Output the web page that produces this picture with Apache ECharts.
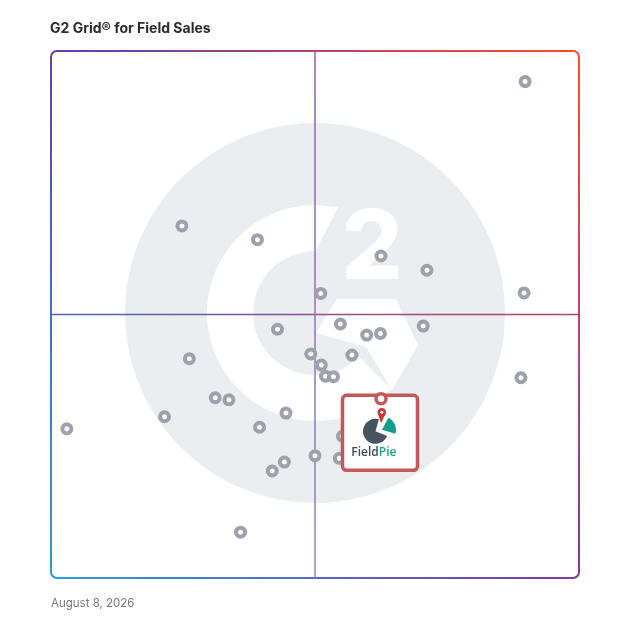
<!DOCTYPE html>
<html><head><meta charset="utf-8">
<script src="https://cdn.jsdelivr.net/npm/echarts@6/dist/echarts.min.js"></script>
<style>html,body{margin:0;padding:0;background:#fff}#c{width:628px;height:628px}</style>
</head><body><div id="c"></div>
<script>
const titleText = 'G2 Grid\u00AE for Field Sales';
const dateText = 'August 8, 2026';
// horizontal = satisfaction, vertical = market presence (0..100)
const satisfaction = [89.8,24.8,39.1,62.5,71.2,89.6,51.1,42.9,54.8,59.8,62.4,70.5,26.2,49.2,57.0,51.2,52.0,53.5,89.0,31.1,33.7,21.5,44.5,3.0,39.5,55.2,50.0,54.6,44.2,41.9,35.9];
const marketPresence = [94.2,66.8,64.2,61.1,58.4,54.1,54.0,47.2,48.2,46.1,46.4,47.8,41.6,42.5,42.3,40.4,38.3,38.2,38.0,34.2,33.8,30.6,31.3,28.3,28.6,26.9,23.2,22.7,22.0,20.3,8.7];
const featuredName = ['Field','Pie'];
const featuredSatisfaction = [62.5];
const featuredPresence = [34.0];

const G = {left:51, top:51, right:579, bottom:578};
const chart = echarts.init(document.getElementById('c'), null, {renderer:'canvas'});
const d2r = Math.PI/180;
const cx = 315, cy = 313;

function lg(x,y,x2,y2,c1,c2){return {type:'linear',x:x,y:y,x2:x2,y2:y2,global:true,colorStops:[{offset:0,color:c1},{offset:1,color:c2}]};}
const cTL='#5a3fb8', cTR='#ff4b2b', cBL='#2a9cd8', cBR='#7c3a9c';
const rr=6, bw=2;
const midY=(G.top+G.bottom)/2, midX=(G.left+G.right)/2;

const graphics = [
  // watermark
  {type:'circle', z:0, silent:true, shape:{cx:cx,cy:cy,r:190}, style:{fill:'#ebeef1'}},
  {type:'sector', z:0, silent:true, shape:{cx:cx,cy:cy,r:108,r0:62,startAngle:45*d2r,endAngle:270*d2r,clockwise:true}, style:{fill:'#fff'}},
  {type:'polygon', z:0, silent:true, shape:{points:[[cx,cy-108],[cx+23,cy-105.7],[cx,cy-61]]}, style:{fill:'#fff'}},
  {type:'polygon', z:0, silent:true, shape:{points:[[cx+22,cy-14],[cx+81,cy-14],[cx+103,cy+32],[cx+77,cy+77],[cx+51,cy+34],[cx+1,cy+20]]}, style:{fill:'#fff'}},
  {type:'text', z:0, silent:true, style:{x:cx+57,y:cy-63,text:'2',fill:'#fff',fontSize:96,fontWeight:800,fontFamily:'Inter',align:'center',verticalAlign:'middle'}},
  // crosshair
  {type:'line', z:1, silent:true, shape:{x1:G.left,y1:midY,x2:G.right,y2:midY}, style:{stroke:lg(G.left,0,G.right,0,'#4a66bb','#c4405c'),lineWidth:1.5}},
  {type:'line', z:1, silent:true, shape:{x1:midX,y1:G.top,x2:midX,y2:G.bottom}, style:{stroke:lg(0,G.top,0,G.bottom,'#9c5ea6','#8a86cc'),lineWidth:1.5}},
  // border
  {type:'line', z:1, silent:true, shape:{x1:G.left+rr,y1:G.top,x2:G.right-rr,y2:G.top}, style:{stroke:lg(G.left,0,G.right,0,cTL,cTR),lineWidth:bw}},
  {type:'line', z:1, silent:true, shape:{x1:G.right,y1:G.top+rr,x2:G.right,y2:G.bottom-rr}, style:{stroke:lg(0,G.top,0,G.bottom,cTR,cBR),lineWidth:bw}},
  {type:'line', z:1, silent:true, shape:{x1:G.left+rr,y1:G.bottom,x2:G.right-rr,y2:G.bottom}, style:{stroke:lg(G.left,0,G.right,0,cBL,cBR),lineWidth:bw}},
  {type:'line', z:1, silent:true, shape:{x1:G.left,y1:G.top+rr,x2:G.left,y2:G.bottom-rr}, style:{stroke:lg(0,G.top,0,G.bottom,cTL,cBL),lineWidth:bw}},
  {type:'arc', z:1, silent:true, shape:{cx:G.left+rr,cy:G.top+rr,r:rr,startAngle:Math.PI,endAngle:1.5*Math.PI,clockwise:true}, style:{stroke:cTL,lineWidth:bw,fill:null}},
  {type:'arc', z:1, silent:true, shape:{cx:G.right-rr,cy:G.top+rr,r:rr,startAngle:1.5*Math.PI,endAngle:2*Math.PI,clockwise:true}, style:{stroke:cTR,lineWidth:bw,fill:null}},
  {type:'arc', z:1, silent:true, shape:{cx:G.right-rr,cy:G.bottom-rr,r:rr,startAngle:0,endAngle:0.5*Math.PI,clockwise:true}, style:{stroke:cBR,lineWidth:bw,fill:null}},
  {type:'arc', z:1, silent:true, shape:{cx:G.left+rr,cy:G.bottom-rr,r:rr,startAngle:0.5*Math.PI,endAngle:Math.PI,clockwise:true}, style:{stroke:cBL,lineWidth:bw,fill:null}},
  // texts
  {type:'text', z:1, style:{x:50,y:29,text:titleText,fill:'#2b2b2b',fontSize:14,fontWeight:700,fontFamily:'Inter',verticalAlign:'middle'}},
  {type:'text', z:1, style:{x:51,y:604,text:dateText,fill:'#7a7a7a',fontSize:11.5,fontWeight:400,fontFamily:'Inter',verticalAlign:'middle'}}
];

const option = {
  animation:false,
  grid:{left:G.left, top:G.top, width:G.right-G.left, height:G.bottom-G.top, containLabel:false},
  xAxis:{type:'value', min:0, max:100, show:false},
  yAxis:{type:'value', min:0, max:100, show:false},
  graphic:{elements:graphics},
  series:[
    {type:'scatter', z:3, symbol:'circle', symbolSize:9, silent:true,
     data:satisfaction.map((v,i)=>[v, marketPresence[i]]),
     itemStyle:{color:'#ffffff', borderColor:'#9ca1ac', borderWidth:4, opacity:1}},
    {type:'custom', z:5, silent:true,
     data:featuredSatisfaction.map((v,i)=>[v, featuredPresence[i]]),
     renderItem:function(params, api){
       const p = api.coord([api.value(0), api.value(1)]);
       const x=p[0], y=p[1];
       return {type:'group', children:[
         {type:'rect', shape:{x:x-38.5,y:y-3.5,width:75,height:75,r:4}, style:{fill:'#fff',stroke:'#c4575a',lineWidth:3.5}},
         {type:'sector', shape:{cx:x-5.5,cy:y+32.5,r:12.5,r0:0,startAngle:22*d2r,endAngle:286*d2r,clockwise:true}, style:{fill:'#46545f'}},
         {type:'sector', shape:{cx:x+1,cy:y+31,r:14,r0:0,startAngle:-62*d2r,endAngle:16*d2r,clockwise:true}, style:{fill:'#149c8b'}},
         {type:'polygon', shape:{points:[[x-3,y+15],[x+4.5,y+15],[x,y+24.5]]}, style:{fill:'#c9363a'}},
         {type:'circle', shape:{cx:x+0.8,cy:y+13.5,r:4.3}, style:{fill:'#c9363a'}},
         {type:'circle', shape:{cx:x+0.8,cy:y+13.5,r:1.5}, style:{fill:'#fff'}},
         {type:'text', style:{x:x-2.2,y:y+53.5,text:featuredName[0],fill:'#3e4b57',fontSize:12,fontWeight:600,fontFamily:'Open Sans',align:'right',verticalAlign:'middle'}},
         {type:'text', style:{x:x-2.2,y:y+53.5,text:featuredName[1],fill:'#16a08d',fontSize:12,fontWeight:600,fontFamily:'Open Sans',align:'left',verticalAlign:'middle'}},
         {type:'circle', shape:{cx:x,cy:y,r:5}, style:{fill:'#fff',stroke:'#c4575a',lineWidth:3.5}}
       ]};
     }}
  ]
};
chart.setOption(option);
</script></body></html>
